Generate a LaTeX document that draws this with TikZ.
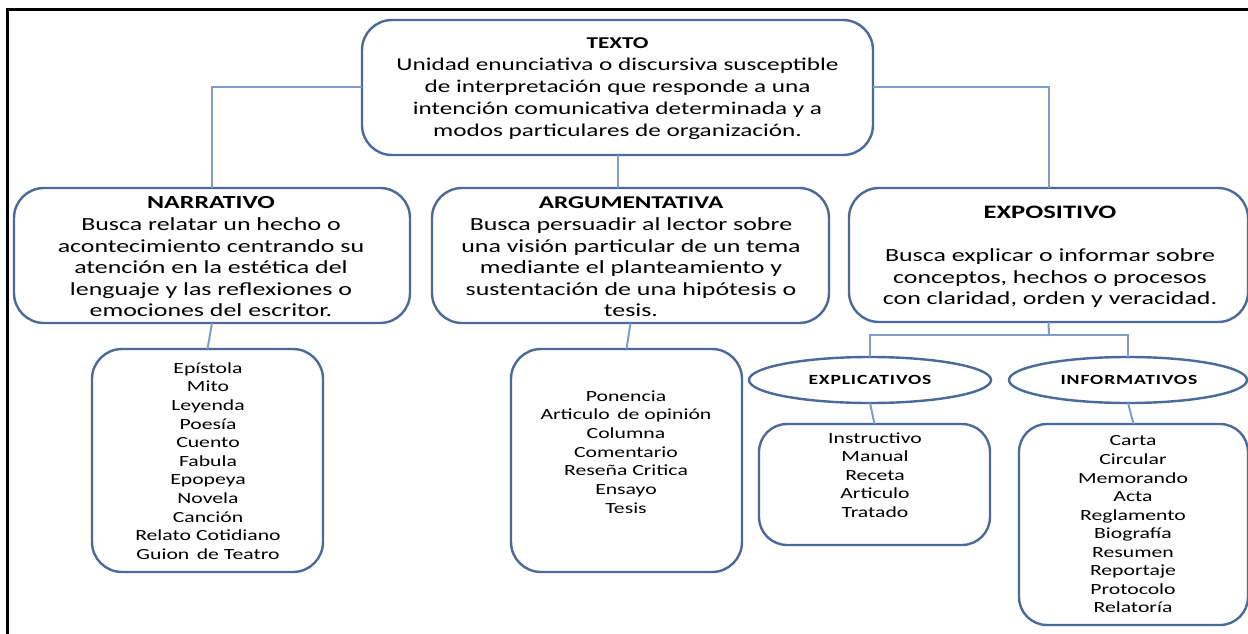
\documentclass[tikz,border=0pt]{standalone}
\usepackage{fontspec}
\setmainfont[FakeStretch=1.4]{Carlito}
\usetikzlibrary{shapes.geometric}
\definecolor{boxblue}{HTML}{4A6A99}
\definecolor{linkblue}{HTML}{7E9DCB}
\tikzset{
  x=1pt, y=-1pt,
  box/.style={draw=boxblue, line width=2.4pt, rounded corners=30pt, rectangle, inner sep=0pt, outer sep=0pt, fill=white},
  oval/.style={draw=boxblue, line width=2.4pt, ellipse, inner sep=0pt, outer sep=0pt, fill=white},
  link/.style={draw=linkblue, line width=2pt},
  bodytext/.style={align=center, inner sep=0pt, font=\fontsize{18}{22}\selectfont},
  listtext/.style={align=center, inner sep=0pt},
}
\begin{document}
\begin{tikzpicture}
\useasboundingbox (0,0) rectangle (1248,634);
% frame
\draw[line width=3pt] (7,640) -- (7,10) -- (1252,10);

% boxes
\node[box, minimum width=511pt, minimum height=135pt] (texto) at (617.5,87.5) {};
\node[box, minimum width=396pt, minimum height=135pt] (narr) at (212,255.5) {};
\node[box, minimum width=397pt, minimum height=135pt] (arg) at (630.5,255.5) {};
\node[box, minimum width=399pt, minimum height=134pt] (expo) at (1048.5,255) {};
\node[box, minimum width=231pt, minimum height=223pt] (narrlist) at (207.5,460.5) {};
\node[box, minimum width=231pt, minimum height=223pt] (arglist) at (626.5,460.5) {};
\node[oval, minimum width=242pt, minimum height=46pt] (explic) at (870,380) {};
\node[oval, minimum width=238pt, minimum height=46pt] (inform) at (1128,380) {};
\node[box, rounded corners=28pt, minimum width=231pt, minimum height=121pt] (expllist) at (874.5,484.5) {};
\node[box, rounded corners=28pt, minimum width=229pt, minimum height=201pt] (infolist) at (1133.5,524.5) {};

% connectors
\draw[link] (texto.west) -| (narr.north);
\draw[link] (texto.east) -| (expo.north);
\draw[link] (texto.south) -- (texto.south |- arg.north);
\draw[link] (narr.south) -- (narrlist.north);
\draw[link] (arg.south) -- (arglist.north);
\coordinate (j) at (1049,335);
\draw[link] (expo.south) -- (j);
\draw[link] (explic.north) |- (j) -| (inform.north);
\draw[link] (explic.south) -- (expllist.north);
\draw[link] (inform.south) -- (infolist.north);

% texts
\node[bodytext] (texto-t) at (617.5,89) {{\bfseries\fontsize{16.5}{22}\selectfont TEXTO}\\Unidad enunciativa o discursiva susceptible\\de interpretación que responde a una\\intención comunicativa determinada y a\\modos particulares de organización.};
\node[bodytext, font=\fontsize{18.5}{21.6}\selectfont] (narr-t) at (211,257) {{\bfseries NARRATIVO}\\Busca relatar un hecho o\\acontecimiento centrando su\\atención en la estética del\\lenguaje y las reflexiones o\\emociones del escritor.};
\node[bodytext, font=\fontsize{18.5}{21.6}\selectfont] (arg-t) at (631,257) {{\bfseries\fontsize{18}{21.6}\selectfont ARGUMENTATIVA}\\Busca persuadir al lector sobre\\una visión particular de un tema\\mediante el planteamiento y\\sustentación de una hipótesis o\\tesis.};
\node[bodytext, font=\fontsize{18.5}{21.5}\selectfont] (expo-t) at (1050,257) {{\bfseries\fontsize{19}{21.5}\selectfont EXPOSITIVO}\\[21.5pt]Busca explicar o informar sobre\\conceptos, hechos o procesos\\con claridad, orden y veracidad.};

\node[listtext, font=\fontsize{15.5}{18.6}\selectfont] (narrlist-t) at (208,461) {Epístola\\Mito\\Leyenda\\Poesía\\Cuento\\Fabula\\Epopeya\\Novela\\Canción\\Relato Cotidiano\\Guion\, de Teatro};
\node[listtext, font=\fontsize{15.5}{18.7}\selectfont] (arglist-t) at (626,452) {Ponencia\\Articulo\, de opinión\\Columna\\Comentario\\Reseña Critica\\Ensayo\\Tesis};
\node[listtext, font=\fontsize{15.5}{18.5}\selectfont] (expllist-t) at (875,475) {Instructivo\\Manual\\Receta\\Articulo\\Tratado};
\node[listtext, font=\fontsize{15.5}{18.56}\selectfont] (infolist-t) at (1133,524.5) {Carta\\Circular\\Memorando\\Acta\\Reglamento\\Biografía\\Resumen\\Reportaje\\Protocolo\\Relatoría};

\node[listtext, font=\bfseries\fontsize{14}{16}\selectfont\addfontfeature{LetterSpace=6}] (explic-t) at (870,380) {EXPLICATIVOS};
\node[listtext, font=\bfseries\fontsize{14}{16}\selectfont\addfontfeature{LetterSpace=6}] (inform-t) at (1129,380) {INFORMATIVOS};
\end{tikzpicture}
\end{document}
